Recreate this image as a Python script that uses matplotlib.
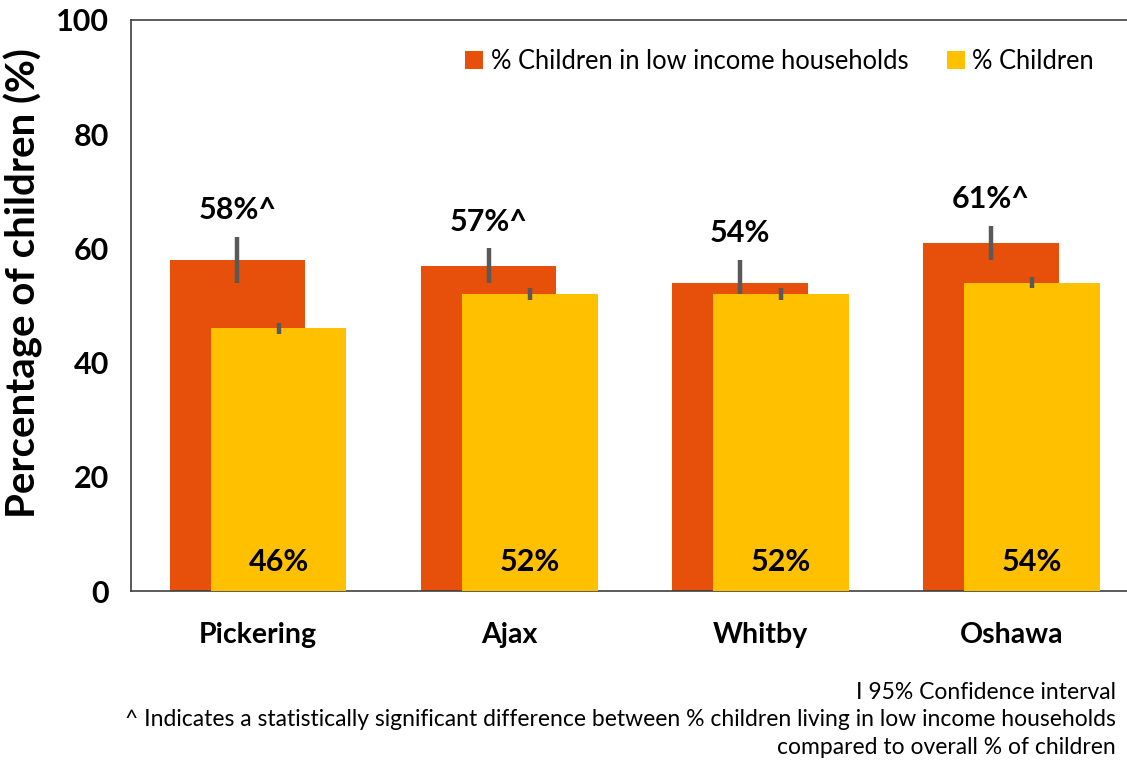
import matplotlib
matplotlib.use('Agg')
import matplotlib.pyplot as plt
import numpy as np

plt.rcParams['font.family'] = ['Lato', 'DejaVu Sans']

# Данные графика.
cities = ['Pickering', 'Ajax', 'Whitby', 'Oshawa']
low_income = [58, 57, 54, 61]
low_income_lo = [54, 54, 50, 58]
low_income_hi = [62, 60, 58, 64]
low_income_labels = ['58%^', '57%^', '54%', '61%^']
children = [46, 52, 52, 54]
children_lo = [45, 51, 51, 53]
children_hi = [47, 53, 53, 55]
children_labels = ['46%', '52%', '52%', '54%']

orange = '#E6500A'
yellow = '#FFC000'
err_color = '#595959'

fig = plt.figure(figsize=(11.27, 7.63), dpi=100)
ax = fig.add_axes([0.1162, 0.2254, 0.8838, 0.7484])

x = np.arange(len(cities))
width = 0.54
offset = 0.082

# Ошибки в виде отклонений от значений.
low_err = [np.array(low_income) - np.array(low_income_lo),
           np.array(low_income_hi) - np.array(low_income)]
ch_err = [np.array(children) - np.array(children_lo),
          np.array(children_hi) - np.array(children)]

ax.bar(x - offset, low_income, width, color=orange,
       label='% Children in low income households', zorder=2)
ax.errorbar(x - offset, low_income, yerr=low_err, fmt='none',
            ecolor=err_color, elinewidth=3.2, capsize=0, zorder=3)
ax.bar(x + offset, children, width, color=yellow,
       label='% Children', zorder=4)
ax.errorbar(x + offset, children, yerr=ch_err, fmt='none',
            ecolor=err_color, elinewidth=3.2, capsize=0, zorder=5)

# Подписи значений.
for xi, hi, lab in zip(x, low_income_hi, low_income_labels):
    ax.text(xi - offset, hi + 2.2, lab, ha='center', va='bottom',
            fontsize=22, fontweight='bold', color='black', zorder=6)
for xi, lab in zip(x, children_labels):
    ax.text(xi + offset, 5, lab, ha='center', va='center',
            fontsize=22, fontweight='bold', color='black', zorder=6)

ax.set_xlim(-0.506, 3.46)
ax.set_ylim(0, 100)
ax.set_yticks([0, 20, 40, 60, 80, 100])
ax.set_xticks(x)
ax.set_xticklabels(cities, fontsize=20.5, fontweight='bold')
for lab in ax.get_yticklabels():
    lab.set_fontsize(22)
    lab.set_fontweight('bold')
ax.tick_params(axis='both', length=0)
ax.tick_params(axis='x', pad=22)
ax.tick_params(axis='y', pad=16)
ax.set_ylabel('Percentage of children (%)', fontsize=29, fontweight='bold')
ax.yaxis.set_label_coords(-0.088, 0.54)

for side in ['left', 'top', 'bottom']:
    ax.spines[side].set_color('#404040')
    ax.spines[side].set_linewidth(1.2)
ax.spines['right'].set_visible(False)

ax.legend(loc='upper right', bbox_to_anchor=(0.99, 0.99), ncol=2, frameon=False,
          fontsize=18.4, handlelength=0.7, handleheight=0.7, handletextpad=0.3,
          columnspacing=1.5)

fig.text(0.99, 0.0564, 'I 95% Confidence interval\n'
         '^ Indicates a statistically significant difference between % children living in low income households\n'
         'compared to overall % of children',
         ha='right', va='center', fontsize=16.5, linespacing=1.4)

fig.savefig('out.png', dpi=100)
